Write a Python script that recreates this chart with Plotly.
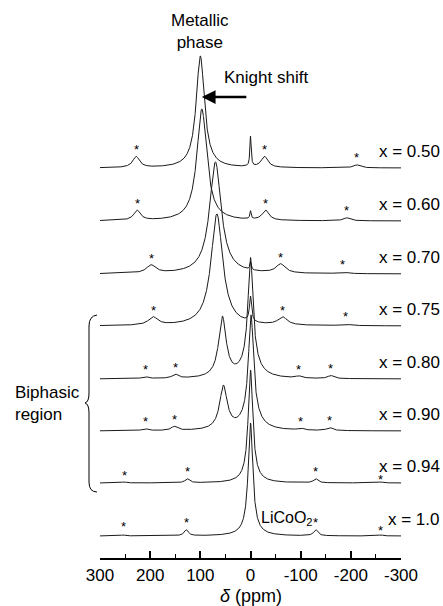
import numpy as np
import plotly.graph_objects as go

# ---------------- data ----------------
samples = ["x = 0.50", "x = 0.60", "x = 0.70", "x = 0.75",
           "x = 0.80", "x = 0.90", "x = 0.94", "x = 1.0"]

# main resonances: metallic-phase peak and LiCoO2 (~0 ppm) peak
main_ppm = [[100, 0], [97, 0], [70, 0], [67, 0],
            [56, 0, 0], [54, -1, -1], [0, 0], [0, 0]]
main_height = [[112, 30], [112, 8], [112, 8], [112, 25],
               [60, 105, 15], [43, 100, 15], [108, 5], [108, 5]]
main_fwhm = [[20, 3], [24, 3], [28, 3], [28, 5],
             [18, 12, 40], [18, 12, 40], [11, 40], [11, 40]]

# spinning sidebands (marked with *)
sideband_ppm = [[228, -28, -212], [226, -30, -192], [198, -60, -184], [194, -64, -190],
                [210, 150, -96, -160], [210, 152, -100, -158],
                [252, 126, -130, -260], [254, 128, -130, -260]]
sideband_height = [[11, 11, 3], [10, 10, 3], [8, 9, 1.5], [8, 8, 1.5],
                   [2, 4, 2, 3], [2, 4, 2, 3], [1, 4, 4, 1], [1, 6, 6, 1]]
sideband_fwhm = [16, 16, 22, 22, 14, 14, 10, 10]

tick_vals = [300, 200, 100, 0, -100, -200, -300]
tick_text = ["300", "200", "100", "0", "-100", "-200", "-300"]

# ---------------- layout helpers ----------------
offsets = [390, 337, 284, 232, 179, 127, 75, 22]   # vertical stacking
# gap between each sideband top and its asterisk (px)
asterisk_gap = [[8, 8, 8], [8, 8, 8], [8, 8, 8], [8, 8, 8],
                [8, 8, 8, 8], [8, 8, 8, 8], [7, 8, 8, 3], [9, 8, 8, 5]]
W, H = 443, 606
ML, MR, MT, MB = 100, 42, 0, 48
PW, PH = W - ML - MR, H - MT - MB


def px_to_paper(px, py):
    return (px - ML) / PW, (H - MB - py) / PH


def lor(x, c, h, fwhm):
    g = fwhm / 2.0
    return h / (1.0 + ((x - c) / g) ** 2)


ppm = np.linspace(300, -300, 2401)
FONT = "Liberation Sans, Arial, sans-serif"

fig = go.Figure()
annotations = []

for i, name in enumerate(samples):
    y = np.zeros_like(ppm)
    for c, h, w in zip(main_ppm[i], main_height[i], main_fwhm[i]):
        y += lor(ppm, c, h, w)
    for c, h in zip(sideband_ppm[i], sideband_height[i]):
        y += lor(ppm, c, h, sideband_fwhm[i])
    fig.add_trace(go.Scatter(x=ppm, y=y + offsets[i], mode="lines",
                             line=dict(color="#1a1a1a", width=1),
                             showlegend=False, hoverinfo="skip", name=name))
    # asterisks over sidebands
    for c, h, g in zip(sideband_ppm[i], sideband_height[i], asterisk_gap[i]):
        annotations.append(dict(x=c, y=offsets[i] + h + g, xref="x", yref="y",
                                text="*", showarrow=False, yanchor="middle",
                                font=dict(family=FONT, size=13, color="black")))
    # sample label on the right
    annotations.append(dict(x=px_to_paper(442, 0)[0], y=offsets[i] + 17,
                            xref="paper", yref="y",
                            text=name, showarrow=False, xanchor="right",
                            yanchor="middle",
                            font=dict(family=FONT, size=17, color="black")))

# text annotations
annotations += [
    dict(x=100, y=H - MB - 31, xref="x", yref="y", text="Metallic<br>phase",
         showarrow=False, align="center", yanchor="middle",
         font=dict(family=FONT, size=17, color="black")),
    dict(x=-30, y=H - MB - 77, xref="x", yref="y", text="Knight shift",
         showarrow=False, yanchor="middle",
         font=dict(family=FONT, size=17, color="black")),
    dict(x=97, y=H - MB - 97, xref="x", yref="y", text="", showarrow=True,
         ax=46, ay=0, arrowhead=2, arrowsize=1.1, arrowwidth=2.5,
         arrowcolor="black"),
    dict(x=-17, y=H - MB - 518, xref="x", yref="y", text="LiCoO<sub>2</sub>",
         showarrow=False, xanchor="left", yanchor="middle",
         font=dict(family=FONT, size=16, color="black")),
    dict(x=px_to_paper(13, 0)[0], y=px_to_paper(0, 403)[1], xref="paper", yref="paper",
         text="Biphasic<br>region", showarrow=False, xanchor="left", align="left",
         yanchor="middle", font=dict(family=FONT, size=17, color="black")),
    dict(x=0, y=px_to_paper(0, 596)[1], xref="x", yref="paper",
         text="<i>δ</i> (ppm)", showarrow=False, yanchor="middle",
         font=dict(family=FONT, size=18, color="black")),
]

# curly brace for the biphasic region
pts = [(97, 315), (89, 316), (89, 326), (89, 393), (89, 402), (85, 403),
       (89, 404), (89, 413), (89, 482), (89, 492), (97, 492)]
P = [px_to_paper(a, b) for a, b in pts]
path = (f"M {P[0][0]},{P[0][1]} Q {P[1][0]},{P[1][1]} {P[2][0]},{P[2][1]} "
        f"L {P[3][0]},{P[3][1]} Q {P[4][0]},{P[4][1]} {P[5][0]},{P[5][1]} "
        f"Q {P[6][0]},{P[6][1]} {P[7][0]},{P[7][1]} "
        f"L {P[8][0]},{P[8][1]} Q {P[9][0]},{P[9][1]} {P[10][0]},{P[10][1]}")

fig.update_layout(
    width=W, height=H,
    margin=dict(l=ML, r=MR, t=MT, b=MB),
    plot_bgcolor="white", paper_bgcolor="white",
    annotations=annotations,
    shapes=[dict(type="path", path=path, xref="paper", yref="paper",
                 line=dict(color="black", width=1))],
    xaxis=dict(range=[300, -300], showgrid=False, zeroline=False,
               showline=True, linecolor="black", linewidth=1.5,
               tickmode="array", tickvals=tick_vals, ticktext=tick_text,
               ticks="inside", ticklen=7, tickwidth=1.5, tickcolor="black",
               ticklabelstandoff=1,
               minor=dict(tickmode="array", tickvals=[250, 150, 50, -50, -150, -250],
                          ticks="inside", ticklen=4, tickwidth=1.2, tickcolor="black"),
               tickfont=dict(family=FONT, size=17, color="black")),
    yaxis=dict(range=[0, PH], visible=False, showgrid=False, zeroline=False),
)

fig.write_html("out.html")
